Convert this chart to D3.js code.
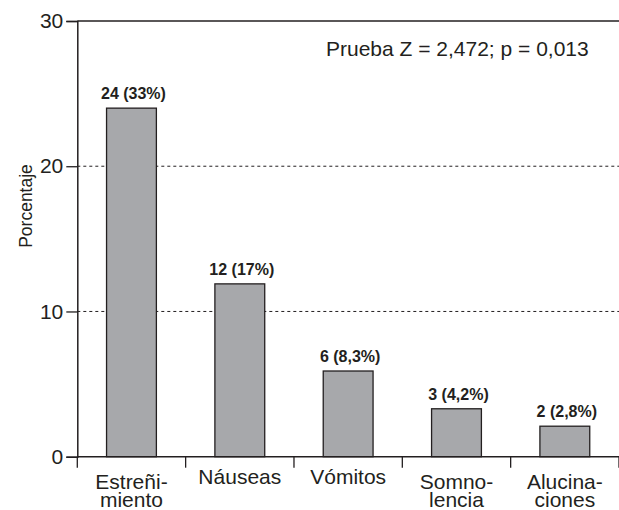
<!DOCTYPE html>
<html>
<head>
<meta charset="utf-8">
<script src="https://cdn.jsdelivr.net/npm/d3@7"></script>
<style>
  body { margin: 0; background: #fff; }
  text { font-family: "Liberation Sans", Arial, Helvetica, sans-serif; fill: #231f20; }
</style>
</head>
<body>
<svg id="chart" width="619" height="510"></svg>
<script>
// data
const categories = [['Estreñi-', 'miento'], ['Náuseas'], ['Vómitos'], ['Somno-', 'lencia'], ['Alucina-', 'ciones']];
const values = [24, 11.9, 5.9, 3.3, 2.1];
const barLabels = ['24 (33%)', '12 (17%)', '6 (8,3%)', '3 (4,2%)', '2 (2,8%)'];
const yTicks = [0, 10, 20, 30];
const note = 'Prueba Z = 2,472; p = 0,013';
const yTitle = 'Porcentaje';

const margin = { top: 21, right: 0, bottom: 53.3, left: 77.3 };
const W = 619, H = 510;
const width = W - margin.left - margin.right;
const height = H - margin.top - margin.bottom;
const ink = '#231f20';

const svg = d3.select('#chart');
const g = svg.append('g').attr('transform', `translate(${margin.left},${margin.top})`);

const x = d3.scaleBand()
  .domain(d3.range(categories.length))
  .range([0, width])
  .paddingInner(0.54)
  .paddingOuter(0.27);

const y = d3.scaleLinear().domain([0, 30]).range([height, 0]);

// dashed gridlines
g.append('g').attr('class', 'grid')
  .selectAll('line')
  .data(yTicks.filter(d => d > 0 && d < 30))
  .enter().append('line')
  .attr('x1', 0).attr('x2', width)
  .attr('y1', d => y(d)).attr('y2', d => y(d))
  .attr('stroke', ink).attr('stroke-width', 1)
  .attr('stroke-dasharray', '3,3');

// top border
g.append('line')
  .attr('x1', 0).attr('x2', width)
  .attr('y1', y(30)).attr('y2', y(30))
  .attr('stroke', ink).attr('stroke-width', 1.5);

// bars
g.selectAll('rect.bar')
  .data(values)
  .enter().append('rect')
  .attr('class', 'bar')
  .attr('x', (d, i) => x(i))
  .attr('y', d => y(d))
  .attr('width', x.bandwidth())
  .attr('height', d => height - y(d))
  .attr('fill', '#a7a8ab')
  .attr('stroke', ink)
  .attr('stroke-width', 1.3);

g.selectAll('text.barlabel')
  .data(values)
  .enter().append('text')
  .attr('class', 'barlabel')
  .attr('x', (d, i) => x(i) + x.bandwidth() / 2 + 2)
  .attr('y', d => y(d) - 9)
  .attr('text-anchor', 'middle')
  .style('font-size', '16px')
  .style('font-weight', 'bold')
  .text((d, i) => barLabels[i]);

// y axis
const yAxis = g.append('g')
  .call(d3.axisLeft(y).tickValues(yTicks).tickSize(11).tickPadding(3).tickFormat(d3.format('d')));
yAxis.select('.domain').attr('stroke', ink).attr('stroke-width', 1.5);
yAxis.selectAll('.tick line').attr('stroke', ink).attr('stroke-width', 1.3);
yAxis.selectAll('.tick text')
  .style('font-size', '21px')
  .style('font-family', '"Liberation Sans", Arial, sans-serif')
  .attr('fill', ink);

// x axis: baseline plus ticks between bands
g.append('line')
  .attr('x1', 0).attr('x2', width)
  .attr('y1', height).attr('y2', height)
  .attr('stroke', ink).attr('stroke-width', 1.5);

g.selectAll('line.xtick')
  .data(d3.range(categories.length + 1))
  .enter().append('line')
  .attr('class', 'xtick')
  .attr('x1', i => i * x.step()).attr('x2', i => i * x.step())
  .attr('y1', height).attr('y2', height + 11)
  .attr('stroke', ink).attr('stroke-width', 1.3);

const cat = g.selectAll('text.cat')
  .data(categories)
  .enter().append('text')
  .attr('class', 'cat')
  .attr('text-anchor', 'middle')
  .attr('x', (d, i) => x(i) + x.bandwidth() / 2)
  .attr('y', d => height + (d.length > 1 ? 32.5 : 27.5))
  .style('font-size', '21px');
cat.selectAll('tspan')
  .data(d => d)
  .enter().append('tspan')
  .attr('x', function() { return this.parentNode.getAttribute('x'); })
  .attr('dy', (d, i) => i === 0 ? 0 : 17.5)
  .text(d => d);

// y title
svg.append('text')
  .attr('transform', `translate(32,206) rotate(-90)`)
  .attr('text-anchor', 'middle')
  .style('font-size', '17.5px')
  .text(yTitle);

// test note
svg.append('text')
  .attr('x', 326).attr('y', 56)
  .style('font-size', '21px')
  .text(note);
</script>
</body>
</html>
